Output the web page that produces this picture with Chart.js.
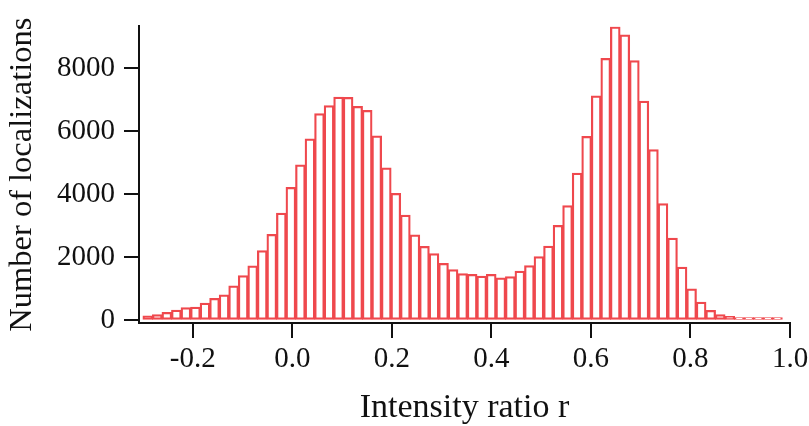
<!DOCTYPE html>
<html>
<head>
<meta charset="utf-8">
<script src="https://cdn.jsdelivr.net/npm/chart.js@4.4.1/dist/chart.umd.min.js"></script>
<style>
  html, body { margin: 0; padding: 0; background: #fff; }
  #wrap { width: 809px; height: 426px; }
</style>
</head>
<body>
<div id="wrap"><canvas id="chart" width="809" height="426"></canvas></div>
<script>
// histogram bins (left edge of first bin, bin width)
const BIN_START = -0.3;
const BIN_WIDTH = 0.01917;

// counts per bin
const COUNTS = [
  136, 170, 245, 315, 390, 410, 540, 685, 800, 1085,
  1410, 1715, 2200, 2715, 3390, 4210, 4925, 5745, 6545, 6800,
  7070, 7065, 6780, 6650, 5840, 4830, 4020, 3325, 2705, 2335,
  2105, 1800, 1600, 1475, 1450, 1390, 1450, 1335, 1380, 1555,
  1725, 2010, 2345, 3000, 3630, 4660, 5830, 7110, 8300, 9300,
  9050, 8230, 6945, 5405, 3695, 2600, 1675, 990, 570, 305,
  170, 115, 75, 75, 75, 75, 75
];

const X_TICKS = [-0.2, 0.0, 0.2, 0.4, 0.6, 0.8, 1.0];
const Y_TICKS = [0, 2000, 4000, 6000, 8000];

const X_TITLE = 'Intensity ratio r';
const Y_TITLE = 'Number of localizations';

const RED = '#ef484d';
const FONT = 'Liberation Serif';

function binPoints() {
  return COUNTS.map((c, i) => ({ x: BIN_START + (i + 0.5) * BIN_WIDTH, y: c }));
}

function axisGrid() {
  return { display: true, offset: false, drawOnChartArea: false, drawTicks: true,
           tickLength: 15, color: '#111', lineWidth: 2 };
}

new Chart(document.getElementById('chart'), {
  type: 'bar',
  data: {
    datasets: [{
      data: binPoints(),
      backgroundColor: 'rgba(255,255,255,0)',
      borderColor: RED,
      borderWidth: 1.25,
      borderSkipped: false,
      inflateAmount: 0.5,
      categoryPercentage: 1,
      barPercentage: 1,
    }],
  },
  options: {
    responsive: false,
    animation: false,
    layout: { padding: { top: 25, right: 19, left: 0, bottom: 0 } },
    plugins: { legend: { display: false }, tooltip: { enabled: false } },
    scales: {
      x: {
        type: 'linear',
        offset: false,
        min: -0.308,
        max: 1.0,
        grid: axisGrid(),
        border: { display: true, color: '#111', width: 2 },
        afterBuildTicks: s => { s.ticks = X_TICKS.map(v => ({ value: v })); },
        afterFit: s => { s.height = 103; s.paddingRight = 0; s.paddingLeft = 0; },
        ticks: {
          color: '#111', padding: 4, maxRotation: 0, autoSkip: false,
          font: { family: FONT, size: 29 },
          callback: v => v.toFixed(1),
        },
        title: { display: true, text: X_TITLE, color: '#111', padding: { top: 0, bottom: 0 },
                 font: { family: FONT, size: 34, lineHeight: 1.05 } },
      },
      y: {
        min: -90,
        max: 9320,
        grid: axisGrid(),
        border: { display: true, color: '#111', width: 2 },
        afterBuildTicks: s => { s.ticks = Y_TICKS.map(v => ({ value: v })); },
        afterFit: s => { s.width = 139; },
        ticks: {
          color: '#111', padding: 9,
          font: { family: FONT, size: 29 },
          callback: v => String(v),
        },
        title: { display: true, text: Y_TITLE, color: '#111', padding: { top: 3, bottom: 0 },
                 font: { family: FONT, size: 32.5, lineHeight: 1.2 } },
      },
    },
  },
});
</script>
</body>
</html>
